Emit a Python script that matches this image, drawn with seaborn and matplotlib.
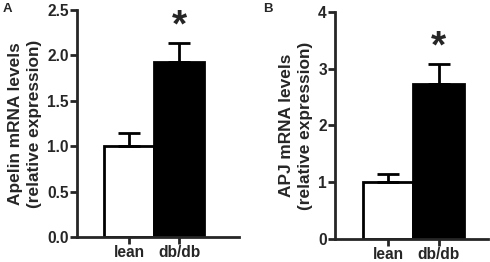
import pandas as pd
import seaborn as sns
import matplotlib.pyplot as plt

groups = ["lean", "db/db"]
apelin_mean = [1.0, 1.93]
apelin_sem = [0.15, 0.21]
apj_mean = [1.0, 2.74]
apj_sem = [0.15, 0.35]
bar_colors = ["white", "black"]

sns.set_theme(style="ticks")
plt.rcParams['font.family'] = ['Liberation Sans', 'DejaVu Sans']
plt.rcParams['font.weight'] = 'bold'


def panel(ax, means, sems, ylim, yticks, ylabel, xlim):
    df = pd.DataFrame({"group": groups, "value": means})
    sns.barplot(data=df, x="group", y="value", hue="group", palette=bar_colors,
                width=1.0, edgecolor="black", linewidth=2, legend=False, ax=ax)
    ax.errorbar(range(len(means)), means, yerr=[[0] * len(sems), sems],
                fmt="none", ecolor="black", elinewidth=2, capsize=8, capthick=2)
    # significance star over db/db
    ax.text(1, means[1] + sems[1] - ylim[1] * 0.01, "*", ha="center", va="bottom",
            fontsize=28, fontweight="bold")
    ax.set_ylim(*ylim)
    ax.set_xlim(*xlim)
    ax.set_yticks(yticks)
    ax.set_xlabel("")
    ax.set_ylabel(ylabel, fontsize=12.4, fontweight="bold", labelpad=4,
                  linespacing=1.3)
    ax.tick_params(axis="both", labelsize=11.2, width=2, length=5, pad=1)
    for lab in ax.get_xticklabels() + ax.get_yticklabels():
        lab.set_fontweight("bold")
    for s in ["left", "bottom"]:
        ax.spines[s].set_linewidth(2)
    sns.despine(ax=ax)
    return ax


fig = plt.figure(figsize=(4.9, 2.62), dpi=100)
ax1 = fig.add_axes([0.157, 0.095, 0.331, 0.867])
ax2 = fig.add_axes([0.684, 0.088, 0.312, 0.866])

panel(ax1, apelin_mean, apelin_sem, (0, 2.5), [0.0, 0.5, 1.0, 1.5, 2.0, 2.5],
      "Apelin mRNA levels\n(relative expression)", (-1.04, 2.2))
ax1.set_yticklabels(["0.0", "0.5", "1.0", "1.5", "2.0", "2.5"], fontweight="bold")
panel(ax2, apj_mean, apj_sem, (0, 4), [0, 1, 2, 3, 4],
      "APJ mRNA levels\n(relative expression)", (-1.04, 1.97))

fig.text(0.006, 0.988, "A", fontsize=9.5, fontweight="bold", va="top")
fig.text(0.537, 0.988, "B", fontsize=9.5, fontweight="bold", va="top")

plt.savefig("out.png", dpi=100)
